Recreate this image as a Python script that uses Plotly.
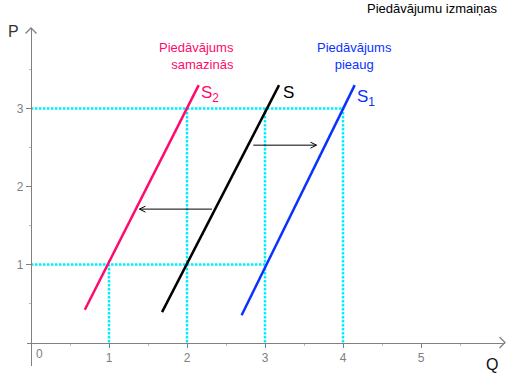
import plotly.graph_objects as go

# ---------------- data ----------------
# supply curves: endpoints (Q, P)
s2_q = [0.69, 2.15]   # Piedāvājums samazinās (S2)
s2_p = [0.42, 3.30]
s_q = [1.68, 3.18]    # original supply (S)
s_p = [0.39, 3.30]
s1_q = [2.70, 4.15]   # Piedāvājums pieaug (S1)
s1_p = [0.35, 3.30]

# cyan dotted guide lines (Q, P) segments
guide_h_p = [3, 1]          # horizontal guides at these prices
guide_h_qend = [4, 3]       # ... going from Q=0 to these Q
guide_v_q = [1, 2, 3, 4]    # vertical guides at these quantities
guide_v_ptop = [1, 3, 3, 3] # ... going from P=0 to these P

# shift arrows: (Q start, Q end, P)
arrow_right = (2.85, 3.66, 2.53)
arrow_left = (2.32, 1.39, 1.71)

x_tick_vals = [1, 2, 3, 4, 5]
x_tick_text = ["1", "2", "3", "4", "5"]
y_tick_vals = [1, 2, 3]
y_tick_text = ["1", "2", "3"]

title_text = "Piedāvājumu izmaiņas"
decrease_text = "Piedāvājums<br>samazinās"
increase_text = "Piedāvājums<br>pieaug"

# ---------------- geometry ----------------
W, H = 508, 391
PX_UNIT = 78.0
X0_PX, Y0_PX = 31.0, 342.5
L_PX, R_PX, T_PX, B_PX = 27.0, 505.0, 28.0, 366.0
xr = [(L_PX - X0_PX) / PX_UNIT, (R_PX - X0_PX) / PX_UNIT]
yr = [(Y0_PX - B_PX) / PX_UNIT, (Y0_PX - T_PX) / PX_UNIT]

def px(x):
    return x / W

def py(y):
    return 1 - y / H

PINK = "#ff0a6c"
BLUE = "#0a32ff"
CYAN = "#00f0ff"
GRAY = "#808080"
FONT = "Liberation Sans, Arial, sans-serif"

fig = go.Figure()

# guides
gx, gy = [], []
for p, qe in zip(guide_h_p, guide_h_qend):
    gx += [0, qe, None]
    gy += [p, p, None]
for q, pt in zip(guide_v_q, guide_v_ptop):
    gx += [q, q, None]
    gy += [0, pt, None]
fig.add_trace(go.Scatter(x=gx, y=gy, mode="lines",
                         line=dict(color=CYAN, width=2.5, dash="2.5px,1.5px"),
                         hoverinfo="skip", showlegend=False))

# supply curves
for q, p, c in [(s2_q, s2_p, PINK), (s_q, s_p, "#000000"), (s1_q, s1_p, BLUE)]:
    fig.add_trace(go.Scatter(x=q, y=p, mode="lines",
                             line=dict(color=c, width=2.5),
                             showlegend=False))

# shift arrows with open heads
ax, ay = [], []
head_back = 6 / PX_UNIT
head_side = 3 / PX_UNIT
for qs, qe, p in [arrow_right, arrow_left]:
    d = 1 if qe > qs else -1
    ax += [qs, qe, None, qe - d * head_back, qe, qe - d * head_back, None]
    ay += [p, p, None, p + head_side, p, p - head_side, None]
fig.add_trace(go.Scatter(x=ax, y=ay, mode="lines",
                         line=dict(color="#000000", width=1),
                         hoverinfo="skip", showlegend=False))

# axis arrow heads (open chevrons)
shapes = [
    dict(type="path", xref="paper", yref="paper",
         path=f"M {px(X0_PX-5.5)} {py(T_PX+5.5)} L {px(X0_PX)} {py(T_PX)} L {px(X0_PX+5.5)} {py(T_PX+5.5)}",
         line=dict(color=GRAY, width=1.3)),
    dict(type="path", xref="paper", yref="paper",
         path=f"M {px(R_PX-5.5)} {py(Y0_PX-5.5)} L {px(R_PX)} {py(Y0_PX)} L {px(R_PX-5.5)} {py(Y0_PX+5.5)}",
         line=dict(color=GRAY, width=1.3)),
]

def ann(text, x, y, size, color, xanchor="center", align="center"):
    return dict(text=text, xref="paper", yref="paper", x=px(x), y=py(y),
                xanchor=xanchor, yanchor="middle", align=align, showarrow=False,
                font=dict(size=size, color=color, family=FONT))

annotations = [
    ann(title_text, 432, 8, 13, "#000000"),
    ann("P", 13, 32, 16, "#333333"),
    ann("Q", 492, 364, 16, "#111111"),
    ann("0", 39, 354, 12, GRAY),
    ann(decrease_text, 236, 56, 13, PINK, xanchor="right", align="right"),
    ann(increase_text, 354, 56, 13, BLUE),
    ann("S<sub>2</sub>", 199, 94, 17, PINK, xanchor="left"),
    ann("S", 281, 92, 17, "#000000", xanchor="left"),
    ann("S<sub>1</sub>", 355, 98, 17, BLUE, xanchor="left"),
]

fig.update_layout(
    width=W, height=H,
    margin=dict(l=0, r=0, t=0, b=0),
    paper_bgcolor="white", plot_bgcolor="white",
    showlegend=False,
    shapes=shapes,
    annotations=annotations,
    xaxis=dict(domain=[px(L_PX), px(R_PX)], range=xr, anchor="free",
               position=py(Y0_PX), showline=True, linecolor=GRAY, linewidth=1.3,
               showgrid=False, zeroline=False,
               tickmode="array", tickvals=x_tick_vals, ticktext=x_tick_text,
               ticks="outside", ticklen=4, tickcolor=GRAY, tickwidth=1,
               tickfont=dict(size=12, color=GRAY, family=FONT),
               minor=dict(tickvals=[0.5, 1.5, 2.5, 3.5, 4.5, 5.5], ticks="outside",
                          ticklen=2, tickcolor="#bbbbbb", showgrid=False),
               fixedrange=True, automargin=False),
    yaxis=dict(domain=[py(B_PX), py(T_PX)], range=yr, anchor="free",
               position=px(X0_PX), showline=True, linecolor=GRAY, linewidth=1.3,
               showgrid=False, zeroline=False,
               tickmode="array", tickvals=y_tick_vals, ticktext=y_tick_text,
               ticks="outside", ticklen=5, tickcolor=GRAY, tickwidth=1,
               tickfont=dict(size=12, color=GRAY, family=FONT),
               minor=dict(tickvals=[0.5, 1.5, 2.5, 3.5], ticks="outside",
                          ticklen=2, tickcolor="#bbbbbb", showgrid=False),
               fixedrange=True, automargin=False),
)

fig.write_html("out.html")
